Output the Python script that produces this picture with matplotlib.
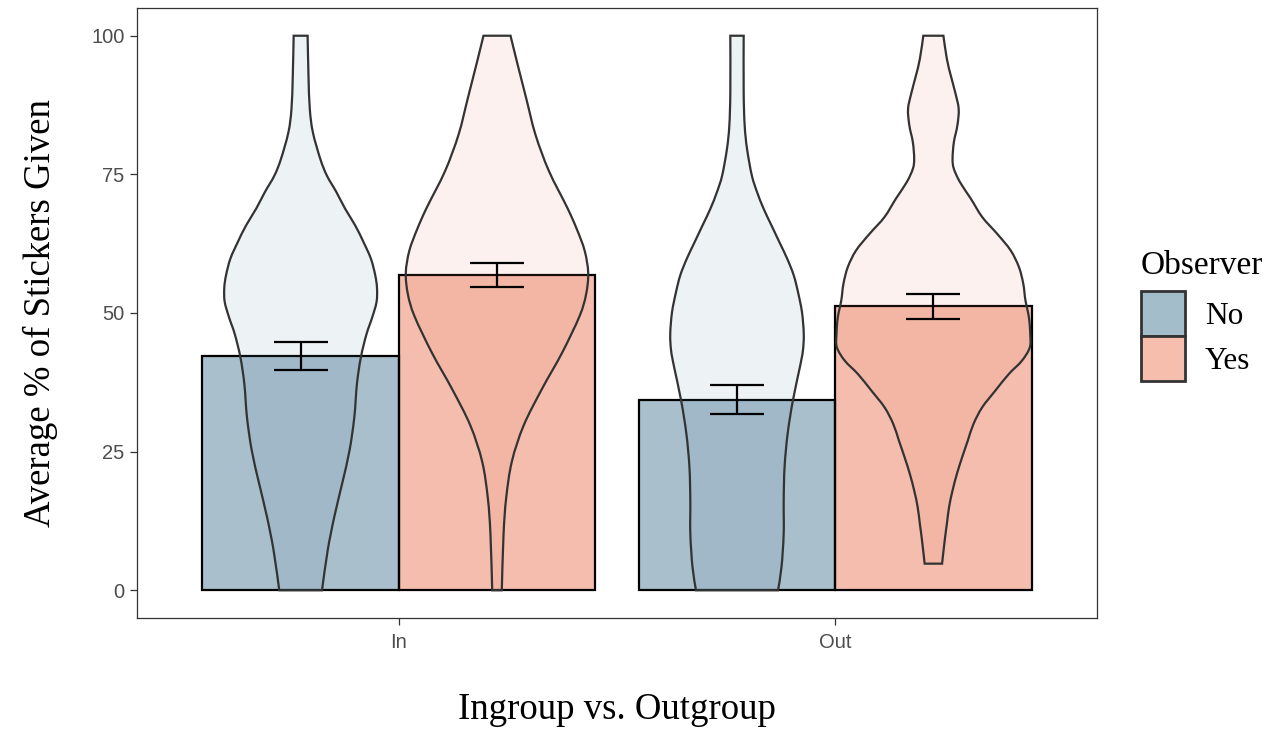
import numpy as np
import matplotlib
matplotlib.use("Agg")
import matplotlib.pyplot as plt
from matplotlib.path import Path
from matplotlib.patches import PathPatch, Patch

# summary values
groups = ["In", "Out"]
observers = ["No", "Yes"]
means = {"No": [42.2, 34.4], "Yes": [56.9, 51.2]}
err_low = {"No": [39.7, 31.7], "Yes": [54.7, 49.0]}
err_high = {"No": [44.7, 37.1], "Yes": [59.1, 53.4]}

# violin outlines: y level and half width (x units)
in_no_y = [0, 7.2, 13.2, 19.2, 25.2, 31.2, 37.2, 42.0, 46.2, 49.2, 52.0, 54.5, 56.8, 59.8, 62.8,
           65.8, 68.8, 71.8, 74.8, 77.8, 82.6, 86.8, 92.8, 100]
in_no_w = [0.049, 0.062, 0.077, 0.095, 0.112, 0.123, 0.129, 0.138, 0.151, 0.164, 0.174, 0.175, 0.171,
           0.161, 0.144, 0.125, 0.102, 0.082, 0.060, 0.045, 0.028, 0.021, 0.018, 0.016]

in_yes_y = [0, 10.1, 16.6, 23.2, 29.7, 36.3, 42.8, 49.4, 53.3, 57.2, 61.2, 65.1, 69.0, 75.6, 82.2,
            88.7, 95.2, 100]
in_yes_w = [0.011, 0.015, 0.021, 0.034, 0.061, 0.103, 0.149, 0.189, 0.204, 0.209, 0.201, 0.183, 0.161,
            0.119, 0.088, 0.067, 0.046, 0.031]

out_no_y = [0, 4.2, 10.2, 16.2, 22.2, 28.2, 34.2, 40.2, 43.2, 46.2, 50.1, 53.7, 56.8, 59.8, 62.8,
            65.8, 68.8, 71.8, 74.8, 79.6, 83.8, 89.8, 100]
out_no_w = [0.094, 0.102, 0.107, 0.107, 0.109, 0.116, 0.128, 0.144, 0.151, 0.153, 0.149, 0.140, 0.130,
            0.115, 0.097, 0.079, 0.061, 0.046, 0.034, 0.023, 0.0176, 0.0153, 0.0153]

out_yes_y = [4.8, 9.0, 12.0, 15.0, 18.0, 21.0, 24.0, 27.0, 30.0, 33.0, 36.0, 39.0, 41.4, 43.8, 46.2,
             49.2, 52.3, 55.3, 58.3, 61.3, 64.3, 67.3, 70.6, 73.6, 76.0, 77.8, 80.8, 83.8, 86.8,
             89.8, 92.8, 95.8, 100]
out_yes_w = [0.020, 0.026, 0.031, 0.036, 0.044, 0.054, 0.066, 0.079, 0.092, 0.112, 0.142, 0.173, 0.203,
             0.221, 0.222, 0.219, 0.211, 0.206, 0.196, 0.177, 0.146, 0.112, 0.086, 0.061, 0.047,
             0.044, 0.047, 0.055, 0.058, 0.050, 0.040, 0.031, 0.023]

violins = {
    ("In", "No"): (in_no_y, in_no_w),
    ("In", "Yes"): (in_yes_y, in_yes_w),
    ("Out", "No"): (out_no_y, out_no_w),
    ("Out", "Yes"): (out_yes_y, out_yes_w),
}

colors = {"No": "#55809b", "Yes": "#eb7d5f"}
key_colors = {"No": "#a3bdca", "Yes": "#f6bead"}
bar_w = 0.45


def catmull(pts):
    # smooth bezier segments through the given points
    verts, codes = [], []
    n = len(pts)
    for i in range(n - 1):
        p0 = pts[max(i - 1, 0)]
        p1 = pts[i]
        p2 = pts[i + 1]
        p3 = pts[min(i + 2, n - 1)]
        verts += [p1 + (p2 - p0) / 6, p2 - (p3 - p1) / 6, p2]
        codes += [Path.CURVE4] * 3
    return verts, codes


def violin_path(xc, ys, ws):
    ys = np.asarray(ys, float)
    ws = np.asarray(ws, float)
    right = np.column_stack([xc + ws, ys])
    left = np.column_stack([xc - ws, ys])[::-1]
    verts = [right[0]]
    codes = [Path.MOVETO]
    v, c = catmull(right)
    verts += v
    codes += c
    verts.append(left[0])
    codes.append(Path.LINETO)
    v, c = catmull(left)
    verts += v
    codes += c
    verts.append(right[0])
    codes.append(Path.CLOSEPOLY)
    return Path(verts, codes)


fig = plt.figure(figsize=(12.76, 7.31), dpi=100)
ax = fig.add_axes([137 / 1276, 1 - 618 / 731, 960 / 1276, 610 / 731])

for gi, g in enumerate(groups):
    for oi, o in enumerate(observers):
        xc = gi + 1 + (oi - 0.5) * bar_w
        ax.bar(xc, means[o][gi], width=bar_w, color=colors[o], alpha=0.5,
               edgecolor="none", zorder=2)
        ax.bar(xc, means[o][gi], width=bar_w, facecolor="none",
               edgecolor="black", linewidth=1.6, zorder=3)
        ys, ws = violins[(g, o)]
        ax.add_patch(PathPatch(violin_path(xc, ys, ws), facecolor=colors[o],
                               alpha=0.1, edgecolor="none", zorder=4))
        ax.add_patch(PathPatch(violin_path(xc, ys, ws), facecolor="none",
                               edgecolor="#333333", linewidth=1.6, zorder=5))
        lo, hi = err_low[o][gi], err_high[o][gi]
        ax.errorbar(xc, (lo + hi) / 2, yerr=[[(hi - lo) / 2], [(hi - lo) / 2]],
                    fmt="none", ecolor="black", elinewidth=1.6, capsize=19.5,
                    capthick=1.6, zorder=6)

ax.set_xlim(0.4, 2.6)
ax.set_ylim(-5, 105)
ax.set_xticks([1, 2])
ax.set_xticklabels(groups)
ax.set_yticks([0, 25, 50, 75, 100])
for s in ax.spines.values():
    s.set_color("#333333")
    s.set_linewidth(0.9)
ax.tick_params(colors="#333333", length=5, width=0.9, labelsize=14.5,
               labelcolor="#4d4d4d")
ax.tick_params(axis="x", pad=6)
ax.tick_params(axis="y", pad=4)
for lab in ax.get_xticklabels() + ax.get_yticklabels():
    lab.set_fontfamily("Liberation Sans")

ax.set_xlabel("Ingroup vs. Outgroup", fontfamily="Liberation Serif",
              fontsize=26.5, labelpad=29)
ax.set_ylabel("Average % of Stickers Given", fontfamily="Liberation Serif",
              fontsize=26.5, labelpad=24)

handles = [Patch(facecolor=key_colors[o], edgecolor="#333333", linewidth=2)
           for o in observers]
leg = ax.legend(handles, observers, title="Observer", loc="upper left",
                bbox_to_anchor=(1141 / 1276, 1 - 251 / 731),
                bbox_transform=fig.transFigure, frameon=False,
                prop={"family": "Liberation Serif", "size": 22.5},
                title_fontproperties={"family": "Liberation Serif", "size": 24},
                handlelength=1.41, handleheight=1.84, labelspacing=0.0,
                handletextpad=0.64, borderpad=0, borderaxespad=0)
leg._legend_box.align = "left"
leg._legend_box.sep = 7

fig.savefig("out.png", dpi=100)
